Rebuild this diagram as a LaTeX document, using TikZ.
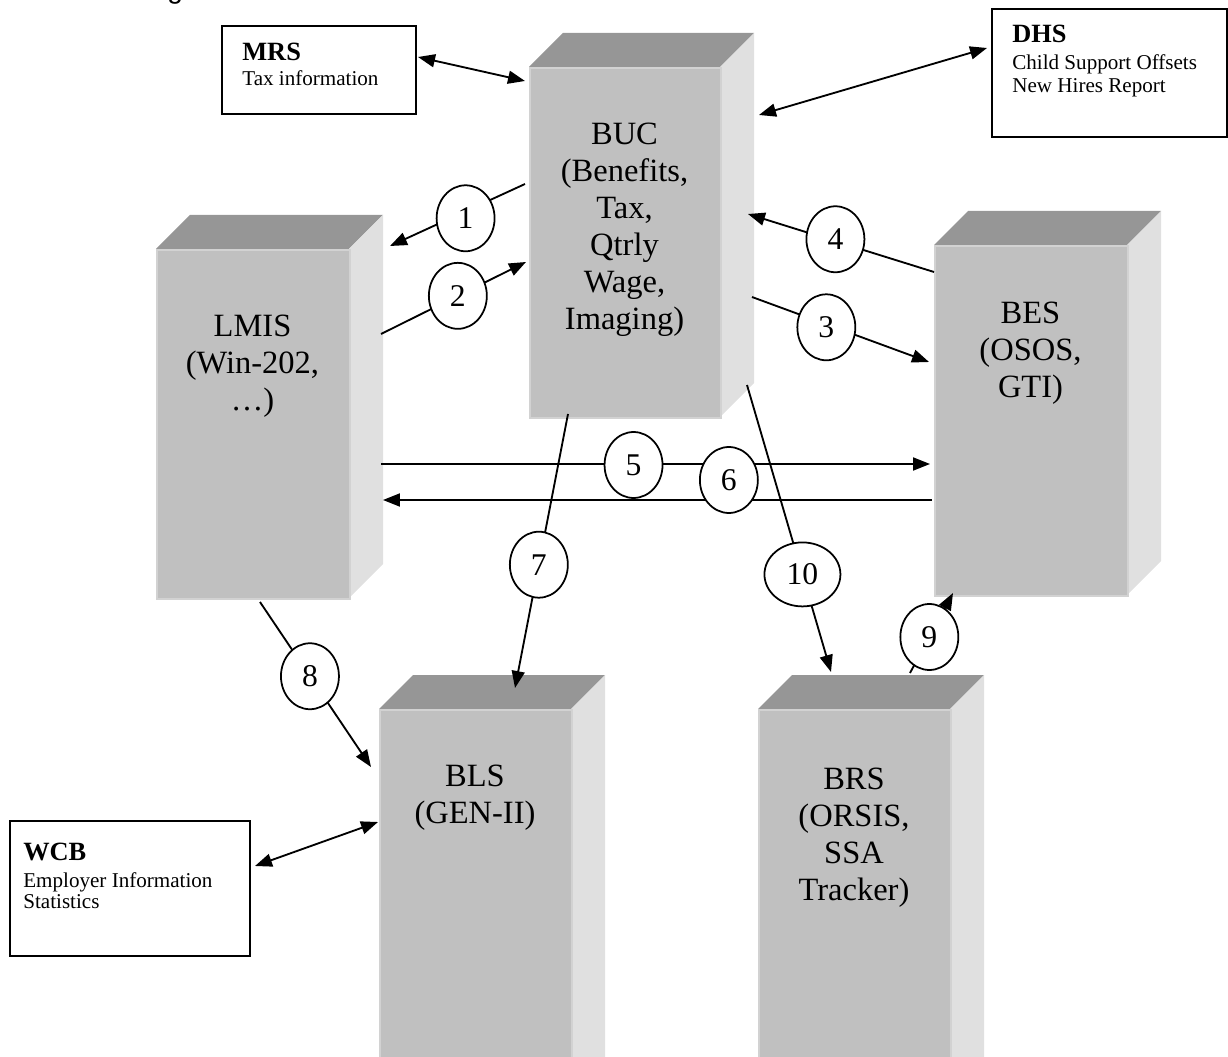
\documentclass[tikz,border=0pt]{standalone}
\usepackage{fontspec}
\setmainfont{Liberation Serif}
\newfontfamily\headsans{Liberation Sans}
\definecolor{blockFront}{HTML}{C0C0C0}
\definecolor{blockTop}{HTML}{969696}
\definecolor{blockSide}{HTML}{E0E0E0}
\definecolor{blockEdge}{HTML}{D2D2D2}
\usepackage{tikz}
\usetikzlibrary{
	arrows.meta,
	positioning,
	shapes.geometric
}

\tikzset{
	front/.style={fill=blockFront, draw=blockEdge, line width=1pt, inner sep=0pt, anchor=north west},
	blocklabel/.style={font=\fontsize{18.5}{21}\selectfont, align=center, anchor=north, inner sep=0pt},
	num/.style={ellipse, draw, fill=white, line width=1pt, minimum width=1.16cm, minimum height=1.32cm, inner sep=0pt, font=\fontsize{18}{20}\selectfont},
	flow/.style={-{Triangle[length=0.34cm, width=0.26cm]}, line width=1.05pt},
	exchange/.style={{Triangle[length=0.34cm, width=0.26cm]}-{Triangle[length=0.34cm, width=0.26cm]}, line width=1.05pt},
	extbox/.style={draw, line width=1.1pt, anchor=north west, inner sep=0pt},
	exthead/.style={font=\fontsize{15}{18}\selectfont\bfseries, anchor=base west, inner sep=0pt},
	extinfo/.style={font=\fontsize{12}{14}\selectfont, anchor=base west, inner sep=0pt}
}

% name, x, y, width, height (in px)
\newcommand{\block}[5]{%
	\fill[blockTop] (#2,#3) -- ++(34,-34) -- ++(#4,0) -- ++(-34,34) -- cycle;
	\fill[blockSide] ({#2+#4},#3) -- ++(34,-34) -- ++(0,#5) -- ++(-34,34) -- cycle;
	\node[front, minimum width=#4*0.02cm, minimum height=#5*0.02cm] (#1) at (#2,#3) {};
}

\begin{document}
\begin{tikzpicture}[x=0.02cm, y=-0.02cm]
	\useasboundingbox (0,0) rectangle (1228,1057);
	\node[font=\headsans\fontsize{16}{19}\selectfont, anchor=base west, inner sep=0pt] (heading) at (167,-1) {g};

	% systems
	\block{buc}{529}{67}{191}{350}
	\block{lmis}{156}{249}{193}{349}
	\block{bes}{934}{245}{193}{350}
	\block{bls}{379}{709}{192}{400}
	\block{brs}{758}{709}{192}{400}
	\node[blocklabel] (buc-text) at (624.5,123) {BUC\\(Benefits,\\Tax,\\Qtrly\\Wage,\\Imaging)};
	\node[blocklabel] (lmis-text) at (252.5,315) {LMIS\\(Win-202,\\…)};
	\node[blocklabel] (bes-text) at (1030.5,302) {BES\\(OSOS,\\GTI)};
	\node[blocklabel] (bls-text) at (475,765) {BLS\\(GEN-II)};
	\node[blocklabel] (brs-text) at (854,768) {BRS\\(ORSIS,\\SSA\\Tracker)};

	% outside agencies
	\node[extbox, minimum width=3.88cm, minimum height=1.76cm] (mrs) at (221,25) {};
	\node[exthead] (mrs-title) at (242,61) {MRS};
	\node[extinfo] (mrs-info) at (242,86) {Tax information};
	\node[extbox, minimum width=4.7cm, minimum height=2.56cm] (dhs) at (991,8) {};
	\node[exthead] (dhs-title) at (1012,43) {DHS};
	\node[extinfo] (dhs-info) at (1012,70) {Child Support Offsets};
	\node[extinfo] (dhs-info2) at (1012,93) {New Hires Report};
	\node[extbox, minimum width=4.8cm, minimum height=2.7cm] (wcb) at (9,820) {};
	\node[exthead] (wcb-title) at (23,860) {WCB};
	\node[extinfo] (wcb-info) at (23,887) {Employer Information};
	\node[extinfo] (wcb-info2) at (23,908) {Statistics};

	% exchanges with agencies
	\coordinate (mrs-end) at (418,57);
	\coordinate (buc-mrs) at (525,81);
	\coordinate (buc-dhs) at (759,115);
	\coordinate (dhs-end) at (987,48);
	\coordinate (wcb-end) at (255,866);
	\coordinate (bls-wcb) at (378,822);
	\draw[exchange] (mrs-end) -- (buc-mrs);
	\draw[exchange] (buc-dhs) -- (dhs-end);
	\draw[exchange] (wcb-end) -- (bls-wcb);

	% numbered flows
	\foreach \k/\sx/\sy/\ex/\ey/\p/\dy in {
		1/525/184/390/246/.44/-7,
		2/381/334/526/262/.53/0,
		3/752/297/929/362/.42/-3,
		4/934/272/748/214/.53/2,
		5/381/464/930/464/.46/-1,
		6/932/500/383/500/.37/20,
		7/568/414/515/688/.55/0,
		8/260/602/371/767/.45/0,
		9/910/673/953/593/.45/0}{
		\coordinate (from\k) at (\sx,\sy);
		\coordinate (to\k) at (\ex,\ey);
		\draw[flow] (from\k) -- node[num, pos=\p, yshift=\dy*0.02cm] (n\k) {\k} (to\k);
	}
	\coordinate (from10) at (747,385);
	\coordinate (to10) at (831,672);
	\draw[flow] (from10) -- node[num, pos=.66, minimum width=1.52cm, minimum height=1.28cm] (n10) {10} (to10);
\end{tikzpicture}
\end{document}
